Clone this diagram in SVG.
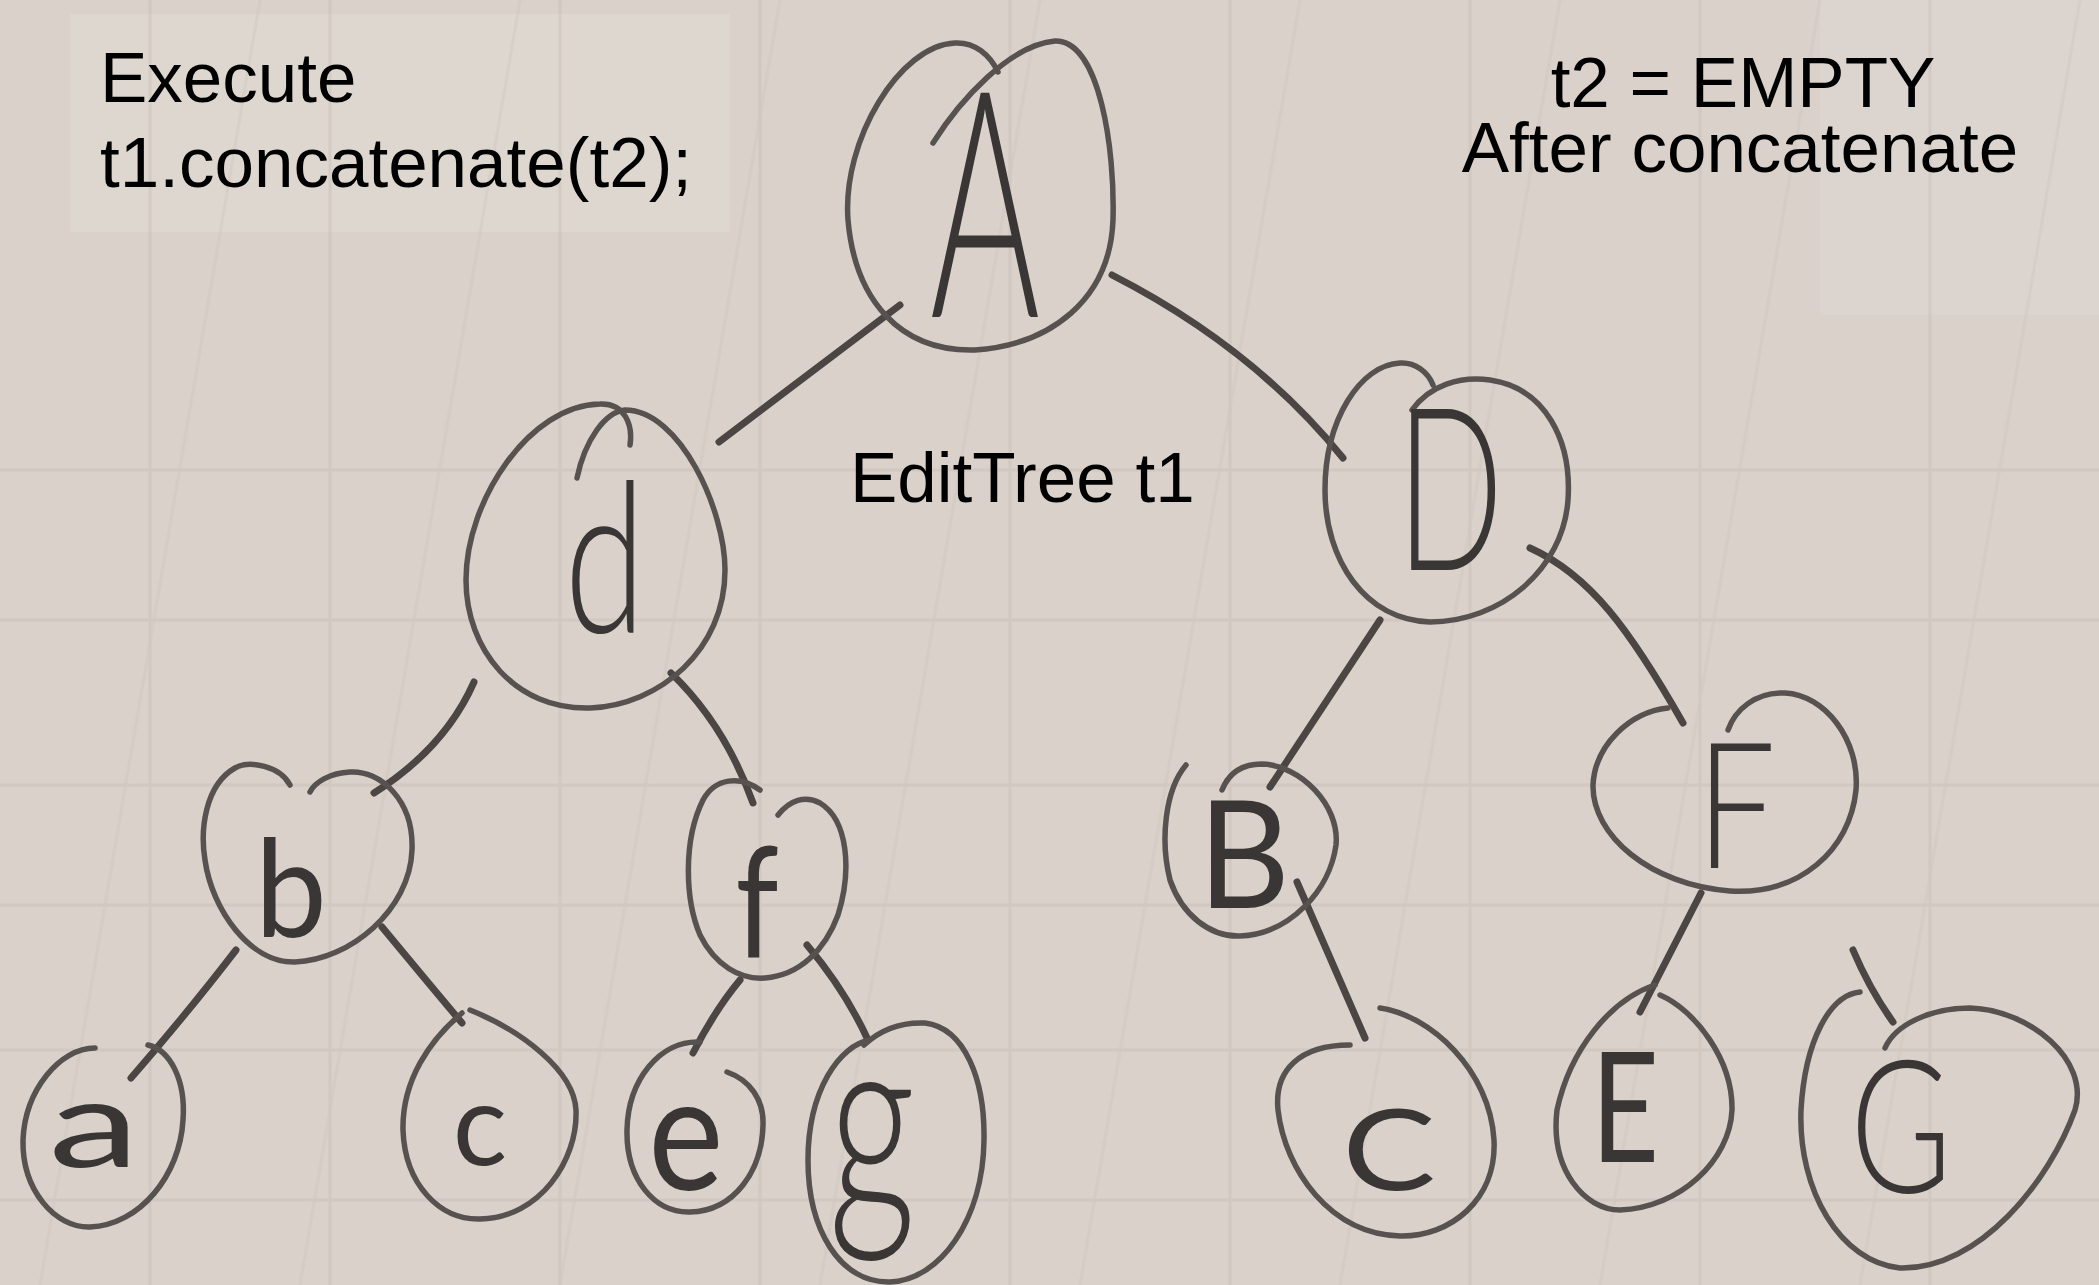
<svg xmlns="http://www.w3.org/2000/svg" width="2099" height="1285" viewBox="0 0 2099 1285">
  <defs>
    <style>
      .paper { fill: #d9d1ca; }
      .patch { fill: #e2dcd6; }
      .grid { stroke: #c9c1ba; stroke-width: 3; fill: none; opacity: 0.5; }
      .outline { fill: none; stroke: #575250; stroke-width: 5.5; stroke-linecap: round; stroke-linejoin: round; }
      .edge { fill: none; stroke: #4b4644; stroke-width: 7; stroke-linecap: round; }
      .letter { font-family: "Lato", "DejaVu Sans", sans-serif; font-weight: 300; fill: #3a3635; text-anchor: middle; }
      .small { font-weight: 400; }
      .typed { font-family: "Liberation Sans", Arial, sans-serif; font-size: 71px; fill: #000; }
    </style>
  </defs>

  <!-- paper -->
  <rect class="paper" x="0" y="0" width="2099" height="1285"/>
  <rect class="patch" x="70" y="14" width="660" height="218" opacity="0.55"/>
  <rect class="patch" x="1820" y="0" width="279" height="315" opacity="0.4"/>
  <g class="grid">
    <path d="M0,470 H2099 M0,620 H2099 M0,785 H2099 M0,905 H2099 M0,1050 H2099 M0,1200 H2099"/>
    <path d="M150,0 V1285 M330,0 V1285 M560,0 V1285 M760,0 V1285 M1010,0 V1285 M1230,0 V1285 M1470,0 V1285 M1700,0 V1285 M1930,0 V1285"/>
    <path d="M40,1285 L260,0 M300,1285 L520,0 M560,1285 L780,0 M820,1285 L1040,0 M1080,1285 L1300,0 M1340,1285 L1560,0 M1600,1285 L1820,0 M1860,1285 L2080,0" opacity="0.6"/>
  </g>

  <!-- typed labels -->
  <g id="label-execute">
    <text class="typed" x="100" y="102">Execute</text>
    <text class="typed" x="100" y="187">t1.concatenate(t2);</text>
  </g>
  <g id="label-after">
    <text class="typed" x="1743" y="107" text-anchor="middle">t2 = EMPTY</text>
    <text class="typed" x="1740" y="172" text-anchor="middle">After concatenate</text>
  </g>
  <g id="label-tree">
    <text class="typed" x="850" y="502">EditTree t1</text>
  </g>

  <!-- connectors -->
  <g id="connectors">
    <path class="edge" d="M900,305 L719,442"/>
    <path class="edge" d="M1112,275 C1200,320 1280,380 1343,458"/>
    <path class="edge" d="M474,682 Q445,748 374,793"/>
    <path class="edge" d="M671,673 Q725,725 753,803"/>
    <path class="edge" d="M236,950 Q190,1010 131,1078"/>
    <path class="edge" d="M382,927 Q430,985 462,1023"/>
    <path class="edge" d="M740,980 Q715,1010 693,1053"/>
    <path class="edge" d="M807,945 Q845,990 868,1040"/>
    <path class="edge" d="M1380,620 L1270,787"/>
    <path class="edge" d="M1530,548 C1590,575 1630,630 1683,723"/>
    <path class="edge" d="M1297,882 L1365,1038"/>
    <path class="edge" d="M1701,893 L1640,1012"/>
    <path class="edge" d="M1853,950 Q1870,990 1893,1022"/>
  </g>

  <!-- nodes -->
  <g id="node-A">
    <path class="outline" d="M933,143 C960,100 1010,45 1055,41 C1100,40 1115,150 1113,220 C1110,300 1050,345 975,350 C900,352 855,300 848,220 C842,140 900,45 955,43 C975,42 990,55 998,72"/>
    <text class="letter" transform="translate(985,317) scale(0.53,1)" font-size="317">A</text>
  </g>
  <g id="node-d">
    <path class="outline" d="M577,478 C585,440 605,412 625,410 C680,410 725,510 725,570 C725,650 660,705 590,708 C515,710 466,650 466,580 C466,500 530,405 600,404 C625,403 633,425 630,445"/>
    <text class="letter" transform="translate(605,633) scale(0.7,1)" font-size="210">d</text>
  </g>
  <g id="node-D">
    <path class="outline" d="M1412,410 C1430,385 1460,376 1490,380 C1545,388 1572,440 1568,500 C1563,570 1500,622 1430,622 C1365,620 1325,560 1325,490 C1325,420 1360,365 1400,363 C1415,362 1428,372 1433,385"/>
    <text class="letter" transform="translate(1450,570) scale(0.62,1)" font-size="227" font-weight="700">D</text>
  </g>
  <g id="node-b">
    <path class="outline" d="M290,785 C280,766 250,760 235,768 C205,785 200,830 205,860 C212,910 250,963 295,962 C350,960 410,910 412,850 C414,800 380,770 350,772 C330,773 315,782 310,792"/>
    <text class="letter small" transform="translate(291,937) scale(0.95,1)" font-size="135">b</text>
  </g>
  <g id="node-f">
    <path class="outline" d="M760,790 C740,775 715,778 703,800 C683,840 685,900 700,935 C715,965 740,980 765,978 C800,975 825,950 838,915 C852,870 848,820 820,803 C805,795 790,800 778,815"/>
    <text class="letter small" transform="translate(757,957) scale(0.8,1)" font-size="154">f</text>
  </g>
  <g id="node-B">
    <path class="outline" d="M1186,765 C1165,790 1160,840 1170,880 C1182,915 1210,937 1240,936 C1290,934 1330,890 1336,845 C1340,805 1300,765 1262,764 C1240,764 1228,775 1222,790"/>
    <text class="letter small" transform="translate(1244,908) scale(0.95,1)" font-size="150">B</text>
  </g>
  <g id="node-F">
    <path class="outline" d="M1668,708 C1630,712 1595,745 1593,785 C1592,835 1650,885 1730,891 C1800,895 1850,850 1856,790 C1860,740 1825,695 1785,693 C1755,692 1735,710 1728,730"/>
    <text class="letter" transform="translate(1736,868) scale(0.8,1)" font-size="176">F</text>
  </g>
  <g id="node-a">
    <path class="outline" d="M95,1048 C60,1048 25,1090 23,1140 C22,1190 55,1228 90,1227 C140,1225 180,1175 183,1120 C186,1080 170,1050 148,1045"/>
    <text class="letter small" transform="translate(94,1167) scale(1.5,1)" font-size="122">a</text>
  </g>
  <g id="node-c">
    <path class="outline" d="M462,1013 C430,1040 402,1080 403,1130 C405,1185 440,1220 480,1219 C540,1218 578,1160 576,1110 C574,1070 520,1030 470,1010"/>
    <text class="letter small" transform="translate(480,1165) scale(1,1)" font-size="114">c</text>
  </g>
  <g id="node-e">
    <path class="outline" d="M700,1042 C660,1040 628,1080 627,1130 C626,1180 655,1213 690,1212 C735,1211 762,1170 763,1125 C764,1100 750,1080 727,1072"/>
    <text class="letter small" transform="translate(686,1190) scale(0.88,1)" font-size="162">e</text>
  </g>
  <g id="node-g">
    <path class="outline" d="M864,1045 C880,1030 900,1022 925,1023 C965,1028 985,1080 984,1140 C983,1220 940,1280 890,1282 C840,1283 808,1230 808,1160 C808,1090 840,1045 870,1040"/>
    <text class="letter" transform="translate(872,1213) scale(0.66,1)" font-size="259">g</text>
  </g>
  <g id="node-C">
    <path class="outline" d="M1380,1008 C1430,1015 1490,1070 1494,1140 C1497,1200 1450,1237 1400,1236 C1330,1234 1285,1170 1278,1110 C1274,1070 1300,1045 1350,1045"/>
    <text class="letter small" transform="translate(1389,1190) scale(1.25,1)" font-size="112">C</text>
  </g>
  <g id="node-E">
    <path class="outline" d="M1655,985 C1610,1000 1570,1050 1557,1110 C1550,1170 1585,1210 1620,1210 C1680,1208 1730,1160 1732,1110 C1733,1060 1695,1010 1660,995"/>
    <text class="letter small" transform="translate(1625,1162) scale(0.77,1)" font-size="153">E</text>
  </g>
  <g id="node-G">
    <path class="outline" d="M1860,992 C1830,995 1805,1040 1801,1110 C1798,1190 1840,1262 1900,1268 C1980,1270 2050,1180 2075,1110 C2090,1060 2030,1010 1970,1008 C1930,1008 1895,1025 1885,1048"/>
    <text class="letter" transform="translate(1901,1193) scale(0.75,1)" font-size="185">G</text>
  </g>
</svg>
